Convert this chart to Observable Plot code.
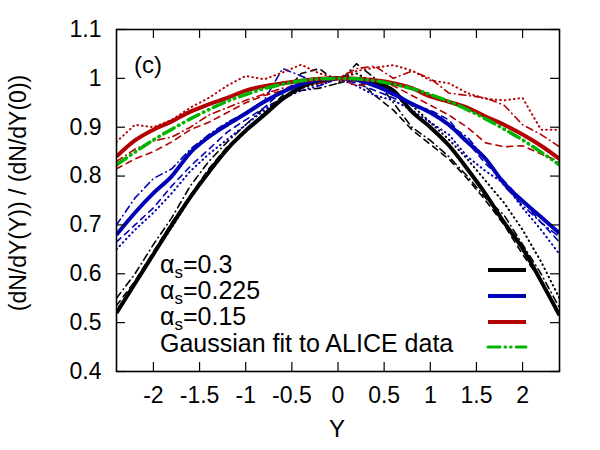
<!DOCTYPE html>
<html>
<head>
<meta charset="utf-8">
<script src="https://cdn.jsdelivr.net/npm/d3@7"></script>
<script src="https://cdn.jsdelivr.net/npm/@observablehq/plot@0.6"></script>
<style>
  body { margin: 0; background: #fff; }
  svg { display: block; }
</style>
</head>
<body>
<div id="chart"></div>
<script>
// Rapidity grid shared by every curve
const rapidity = [-2.4, -2.2, -2.0, -1.8, -1.6, -1.4, -1.2, -1.0, -0.8, -0.6, -0.4, -0.2, 0,
                  0.2, 0.4, 0.6, 0.8, 1.0, 1.2, 1.4, 1.6, 1.8, 2.0, 2.2, 2.4];

// Normalised rapidity distributions, alpha_s = 0.3
const as030 =        [0.52, 0.58, 0.64, 0.70, 0.757, 0.808, 0.855, 0.893, 0.925, 0.958, 0.982, 0.996, 1.0,
                      0.997, 0.99, 0.975, 0.932, 0.90, 0.863, 0.815, 0.763, 0.705, 0.652, 0.585, 0.515];
const as030Dashed =  [0.535, 0.585, 0.645, 0.705, 0.76, 0.815, 0.86, 0.895, 0.928, 0.965, 1.01, 1.02, 0.99,
                      1.0, 0.965, 0.935, 0.895, 0.865, 0.835, 0.795, 0.75, 0.70, 0.64, 0.585, 0.52];
const as030Dotted =  [0.525, 0.58, 0.64, 0.695, 0.755, 0.81, 0.855, 0.89, 0.93, 0.96, 0.98, 0.99, 1.0,
                      1.01, 0.99, 0.975, 0.945, 0.91, 0.875, 0.835, 0.79, 0.745, 0.69, 0.625, 0.55];
const as030DashDot = [0.55, 0.60, 0.66, 0.715, 0.78, 0.83, 0.87, 0.905, 0.94, 0.958, 0.975, 0.98, 0.99,
                      1.03, 1.0, 0.95, 0.90, 0.873, 0.84, 0.80, 0.755, 0.72, 0.66, 0.60, 0.53];

// alpha_s = 0.225
const as0225 =        [0.68, 0.725, 0.765, 0.80, 0.848, 0.88, 0.905, 0.928, 0.952, 0.972, 0.988, 0.997, 1.0,
                       0.997, 0.985, 0.968, 0.948, 0.93, 0.905, 0.87, 0.835, 0.785, 0.749, 0.716, 0.683];
const as0225Dashed =  [0.665, 0.70, 0.735, 0.78, 0.82, 0.855, 0.89, 0.915, 0.94, 0.975, 0.995, 0.985, 1.0,
                       0.99, 0.975, 0.96, 0.945, 0.935, 0.915, 0.87, 0.825, 0.79, 0.75, 0.705, 0.665];
const as0225Dotted =  [0.65, 0.69, 0.725, 0.765, 0.81, 0.845, 0.875, 0.905, 0.935, 0.96, 0.975, 0.985, 1.0,
                       0.985, 0.965, 0.955, 0.935, 0.91, 0.885, 0.84, 0.81, 0.785, 0.735, 0.69, 0.64];
const as0225DashDot = [0.70, 0.755, 0.795, 0.815, 0.855, 0.885, 0.91, 0.93, 0.955, 1.02, 1.005, 0.99, 1.0,
                       0.995, 0.985, 0.965, 0.95, 0.93, 0.905, 0.88, 0.835, 0.78, 0.74, 0.705, 0.675];

// alpha_s = 0.15
const as015 =        [0.84, 0.873, 0.895, 0.912, 0.932, 0.947, 0.96, 0.975, 0.984, 0.99, 0.995, 0.999, 1.0,
                      0.999, 0.996, 0.99, 0.98, 0.963, 0.952, 0.94, 0.922, 0.905, 0.885, 0.862, 0.835];
const as015Dashed =  [0.815, 0.835, 0.85, 0.87, 0.895, 0.91, 0.93, 0.95, 0.965, 0.975, 0.99, 0.995, 1.0,
                      0.985, 0.99, 0.985, 0.965, 0.945, 0.925, 0.90, 0.868, 0.86, 0.862, 0.845, 0.83];
const as015Dotted =  [0.87, 0.905, 0.90, 0.915, 0.94, 0.96, 0.985, 1.005, 0.998, 1.012, 1.028, 1.01, 1.0,
                      1.015, 1.022, 1.027, 1.016, 0.996, 0.99, 0.97, 0.958, 0.955, 0.96, 0.895, 0.895];
const as015DashDot = [0.83, 0.855, 0.872, 0.88, 0.90, 0.925, 0.94, 0.955, 0.968, 0.98, 0.985, 0.99, 1.0,
                      1.02, 1.025, 1.0, 1.015, 1.0, 0.97, 0.965, 0.96, 0.945, 0.905, 0.885, 0.86];

// Gaussian fit to the ALICE data
const aliceFit = [0.823, 0.849, 0.874, 0.896, 0.917, 0.936, 0.953, 0.967, 0.979, 0.988, 0.995, 0.999, 1.0,
                  0.999, 0.995, 0.988, 0.979, 0.967, 0.953, 0.936, 0.917, 0.896, 0.874, 0.849, 0.823];

// Axis ticks
const xTicks = [-2, -1.5, -1, -0.5, 0, 0.5, 1, 1.5, 2];
const yTicks = [0.4, 0.5, 0.6, 0.7, 0.8, 0.9, 1, 1.1];

// Legend entries
const legendCoupling = ["0.3", "0.225", "0.15"];
const legendFit = "Gaussian fit to ALICE data";

const BLACK = "#000000", BLUE = "#0000b4", RED = "#b40000", GREEN = "#00b400";
const DASHED = "6,5", DOTTED = "0.6,4", DASHDOT = "7,4,0.6,4", FIT = "12,5,0.6,5,0.6,5";

// Thin variants first, then the thick curves, then the fit on top
const curves = [
  {values: as030Dashed, stroke: BLACK, width: 1.6, dash: DASHED},
  {values: as030Dotted, stroke: BLACK, width: 2, dash: DOTTED},
  {values: as030DashDot, stroke: BLACK, width: 1.6, dash: DASHDOT},
  {values: as0225Dashed, stroke: BLUE, width: 1.6, dash: DASHED},
  {values: as0225Dotted, stroke: BLUE, width: 2, dash: DOTTED},
  {values: as0225DashDot, stroke: BLUE, width: 1.6, dash: DASHDOT},
  {values: as015Dashed, stroke: RED, width: 1.6, dash: DASHED},
  {values: as015Dotted, stroke: RED, width: 2, dash: DOTTED},
  {values: as015DashDot, stroke: RED, width: 1.6, dash: DASHDOT},
  {values: as030, stroke: BLACK, width: 4, dash: null, curve: "monotone-x"},
  {values: as0225, stroke: BLUE, width: 4, dash: null, curve: "monotone-x"},
  {values: as015, stroke: RED, width: 4, dash: null, curve: "monotone-x"},
  {values: aliceFit, stroke: GREEN, width: 3.5, dash: FIT, curve: "monotone-x"}
];

const lineMarks = curves.map(c =>
  Plot.line(rapidity.map((Y, i) => ({Y, ratio: c.values[i]})), {
    x: "Y", y: "ratio", stroke: c.stroke, strokeWidth: c.width,
    strokeDasharray: c.dash, strokeLinecap: c.dash ? "round" : "butt",
    strokeLinejoin: "round", curve: c.curve || "linear", clip: true
  })
);

const W = 600, H = 450, ML = 116, MR = 41, MT = 29, MB = 79;
const frameW = W - ML - MR, frameH = H - MT - MB, TICK = 9;
const FONT = "'Liberation Sans', Arial, sans-serif";

const svg = Plot.plot({
  width: W, height: H,
  marginLeft: ML, marginRight: MR, marginTop: MT, marginBottom: MB,
  style: {fontFamily: FONT, fontSize: "23px", color: "black", background: "white"},
  x: {domain: [-2.4, 2.4], ticks: xTicks, tickSize: 0, tickPadding: 15, tickFormat: d => String(d), label: null},
  y: {domain: [0.4, 1.1], ticks: yTicks, tickSize: 0, tickPadding: 15, tickFormat: d => String(d), label: null},
  marks: [
    ...lineMarks,
    // inward ticks on all four sides
    Plot.tickX(xTicks, {x: d => d, insetTop: frameH - TICK, stroke: "black", strokeWidth: 1.2}),
    Plot.tickX(xTicks, {x: d => d, insetBottom: frameH - TICK, stroke: "black", strokeWidth: 1.2}),
    Plot.tickY(yTicks, {y: d => d, insetRight: frameW - TICK, stroke: "black", strokeWidth: 1.2}),
    Plot.tickY(yTicks, {y: d => d, insetLeft: frameW - TICK, stroke: "black", strokeWidth: 1.2}),
    Plot.frame({stroke: "black", strokeWidth: 1.6})
  ]
});

document.getElementById("chart").appendChild(svg);

const g = d3.select(svg).append("g")
  .attr("font-family", FONT)
  .attr("font-size", 23)
  .attr("text-anchor", "start")
  .attr("fill", "black");

// Axis titles
g.append("text").attr("x", 337).attr("y", 437).attr("font-size", 24)
  .attr("text-anchor", "middle").text("Y");
g.append("text").attr("transform", "translate(26,193) rotate(-90)")
  .attr("text-anchor", "middle").text("(dN/dY(Y)) / (dN/dY(0))");

// Panel tag
g.append("text").attr("x", 134).attr("y", 73).attr("font-size", 24).text("(c)");

// Legend
const lg = g.append("g").attr("font-size", 25);
const legendColors = [BLACK, BLUE, RED];
legendCoupling.forEach((v, i) => {
  const base = 273 + i * 26;
  const t = lg.append("text").attr("x", 160).attr("y", base);
  t.append("tspan").text("α");
  t.append("tspan").attr("font-size", 17).attr("dy", 5).text("s");
  t.append("tspan").attr("dy", -5).text("=" + v);
  lg.append("line").attr("x1", 488).attr("x2", 526).attr("y1", base - 3).attr("y2", base - 3)
    .attr("stroke", legendColors[i]).attr("stroke-width", 4);
});
lg.append("text").attr("x", 160).attr("y", 352).text(legendFit);
lg.append("line").attr("x1", 488).attr("x2", 526).attr("y1", 347).attr("y2", 347)
  .attr("stroke", GREEN).attr("stroke-width", 3).attr("stroke-dasharray", FIT).attr("stroke-linecap", "round");
</script>
</body>
</html>
